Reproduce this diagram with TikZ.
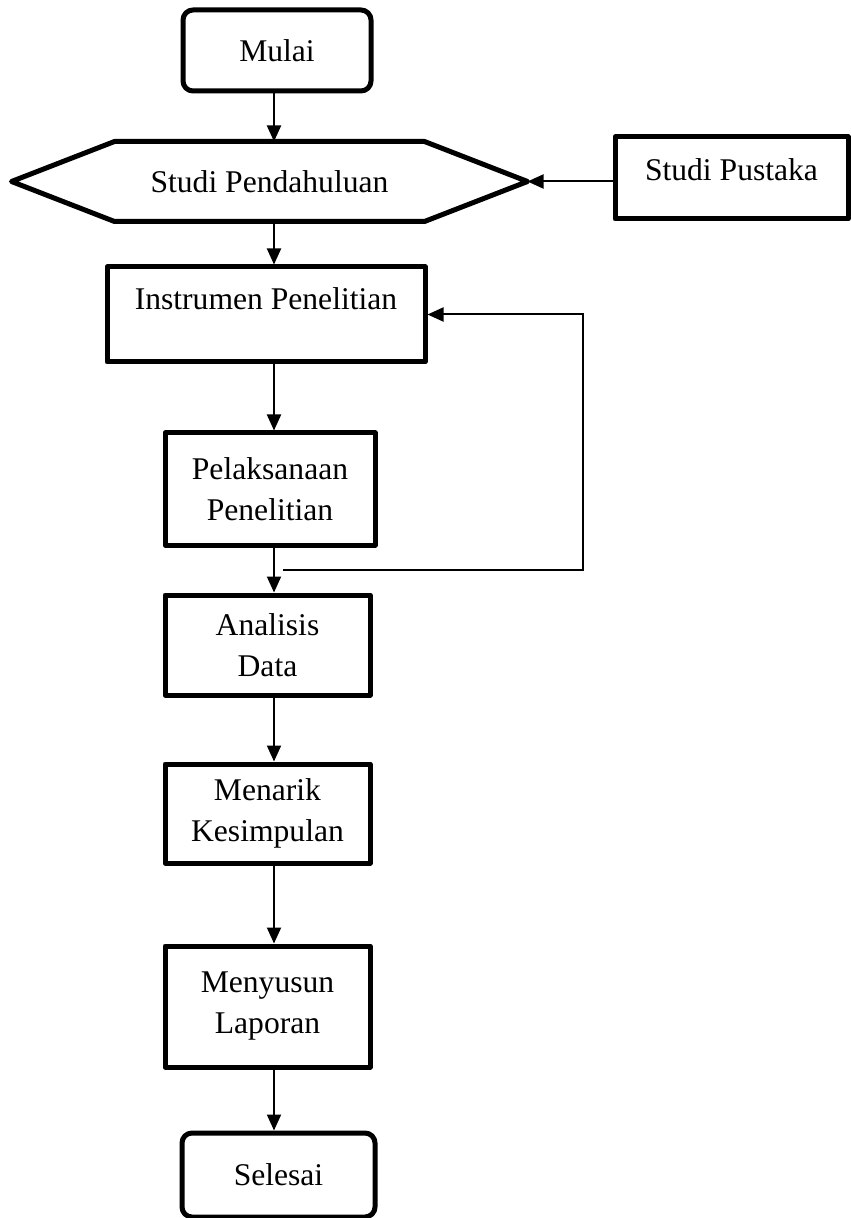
\documentclass[tikz,border=0pt]{standalone}
\usepackage{fontspec}
\setmainfont{Liberation Serif}
\usetikzlibrary{positioning, calc, arrows.meta}

\begin{document}
\begin{tikzpicture}[x=0.5pt,y=-0.5pt,
    kotak/.style={draw, line width=2.5pt, line join=round, align=center, inner sep=0pt, font=\fontsize{15.8}{20.5}\selectfont},
    terminal/.style={kotak, rounded corners=5pt},
    panah/.style={line width=1pt, -{Triangle[length=8pt,width=7pt]}}]
        \useasboundingbox (0,0) rectangle (850,1218);
        %garis tengah
        \coordinate (tengah) at (274,0);
        %kotak mulai
        \node[terminal, minimum width=94pt, minimum height=40.5pt] (mulai) at (277,50.5) {Mulai};
        %studi pendahuluan
        \node[kotak, draw=none, minimum width=152.5pt, minimum height=37.5pt] (pendahuluan) at (269.5,181.5) {Studi Pendahuluan};
        \coordinate (kiri) at ($(pendahuluan.west)+(-103,0)$);
        \coordinate (ujung) at ($(pendahuluan.east)+(103,0)$);
        \draw[line width=2.5pt, line join=round] (pendahuluan.north west) -- (pendahuluan.north east) -- (ujung) -- (pendahuluan.south east) -- (pendahuluan.south west) -- (kiri) -- cycle;
        %studi pustaka
        \node[kotak, minimum width=116.5pt, minimum height=41pt, text height=11pt, text depth=8.6pt] (pustaka) at (731.5,178) {Studi Pustaka};
        %instrumen
        \node[kotak, minimum width=159pt, minimum height=47.5pt, text height=11pt, text depth=16pt] (instrumen) at (266,314.5) {Instrumen Penelitian};
        %pelaksanaan
        \node[kotak, minimum width=105pt, minimum height=56pt] (pelaksanaan) at (270,489) {Pelaksanaan\\Penelitian};
        %analisis
        \node[kotak, minimum width=102.5pt, minimum height=50pt] (analisis) at (267.5,645) {Analisis\\Data};
        %menarik
        \node[kotak, minimum width=102.5pt, minimum height=49.5pt] (menarik) at (267.5,813.5) {Menarik\\Kesimpulan};
        %menyusun
        \node[kotak, minimum width=102.5pt, minimum height=60.5pt] (menyusun) at (267.5,1006.5) {Menyusun\\Laporan};
        %kotak selesai
        \node[terminal, minimum width=96.5pt, minimum height=42pt] (selesai) at (278.5,1175) {Selesai};
        %panah utama
        \draw[panah] (mulai.south -| tengah) -- (pendahuluan.north -| tengah);
        \draw[panah] (pendahuluan.south -| tengah) -- (instrumen.north -| tengah);
        \draw[panah] (instrumen.south -| tengah) -- (pelaksanaan.north -| tengah);
        \draw[panah] (pelaksanaan.south -| tengah) -- (analisis.north -| tengah);
        \draw[panah] (analisis.south -| tengah) -- (menarik.north -| tengah);
        \draw[panah] (menarik.south -| tengah) -- (menyusun.north -| tengah);
        \draw[panah] (menyusun.south -| tengah) -- (selesai.north -| tengah);
        %panah pustaka
        \draw[panah] (pustaka.west |- ujung) -- (ujung);
        %panah balik
        \coordinate (balik) at (283,570);
        \coordinate (belok) at (583,570);
        \draw[panah] (balik) -- (belok) |- (instrumen.east);
    \end{tikzpicture}
\end{document}
